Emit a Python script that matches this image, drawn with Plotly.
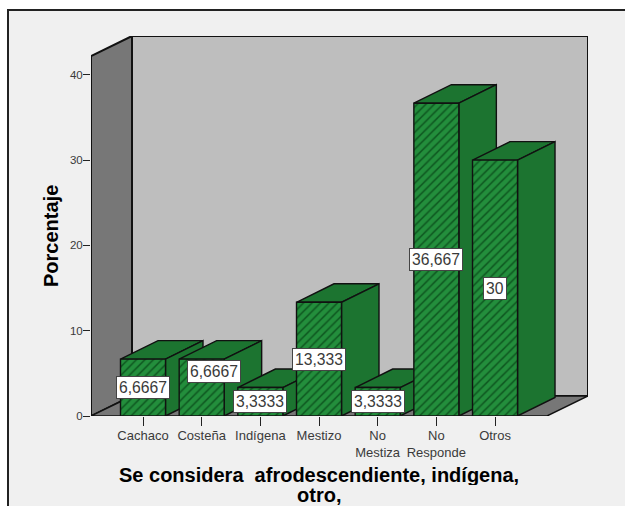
import plotly.graph_objects as go

categories = ["Cachaco", "Costeña", "Indígena", "Mestizo", "No Mestiza", "No Responde", "Otros"]
tick_labels = ["Cachaco", "Costeña", "Indígena", "Mestizo", "No<br>Mestiza", "No<br>Responde", "Otros"]
values = [6.6667, 6.6667, 3.3333, 13.333, 3.3333, 36.667, 30]
value_labels = ["6,6667", "6,6667", "3,3333", "13,333", "3,3333", "36,667", "30"]
y_ticks = [0, 10, 20, 30, 40]
x_title_lines = ["<b>Se considera  afrodescendiente, indígena,</b>", "<b>otro,</b>"]
y_title = "<b>Porcentaje</b>"

# pixel layout
W, H = 625, 506
PX_L, PX_R, PX_T, PX_B = 91, 588, 36, 416
PX_PER_CAT = 58.67
PX_PER_UNIT = 8.53
X0_PX = 143
x_min = (PX_L - X0_PX) / PX_PER_CAT
x_max = (PX_R - X0_PX) / PX_PER_CAT
y_max = (PX_B - PX_T) / PX_PER_UNIT
DX = 41 / PX_PER_CAT
DY = 20 / PX_PER_UNIT
BAR_DX = 37.5 / PX_PER_CAT
BAR_DY = 18.5 / PX_PER_UNIT
BAR_W = 45 / PX_PER_CAT

BACK = "#BEBEBE"
WALL = "#777777"
SIDE = "#1C7430"
HATCH_BG = "#0F5C22"
HATCH_FG = "#38C055"
INK = "#111111"
TEXT = "#3A3A3A"

fig = go.Figure()


def poly(xs, ys, fill, width=1.4, pattern=None):
    kw = {}
    if pattern:
        kw["fillpattern"] = pattern
    fig.add_trace(go.Scatter(
        x=xs + xs[:1], y=ys + ys[:1], mode="lines", fill="toself", fillcolor=fill,
        line=dict(color=INK, width=width), hoverinfo="skip", showlegend=False,
        cliponaxis=False, **kw))


# walls and floor
front_right = x_max - DX
top_front = y_max - DY
poly([x_min + DX, x_max, x_max, x_min + DX], [DY, DY, y_max, y_max], BACK, 2)
poly([x_min, x_min + DX, x_min + DX, x_min], [0, DY, y_max, top_front], WALL, 2)
poly([x_min, x_min + DX, x_max, front_right], [0, DY, DY, 0], WALL, 1.4)

# bars, drawn left to right so later bars overlap earlier sides
for i, v in enumerate(values):
    a, b = i - BAR_W / 2, i + BAR_W / 2
    poly([a, a + BAR_DX, b + BAR_DX, b], [v, v + BAR_DY, v + BAR_DY, v], SIDE)
    poly([b, b + BAR_DX, b + BAR_DX, b], [0, BAR_DY, v + BAR_DY, v], SIDE)
    poly([a, b, b, a], [0, 0, v, v], HATCH_BG,
         pattern=dict(shape="/", fgcolor=HATCH_FG, bgcolor=HATCH_BG, size=6, solidity=0.7))

label_shift = {1: (12, 16)}
annotations = []
for i, (v, t) in enumerate(zip(values, value_labels)):
    sx, sy = label_shift.get(i, (0, 0))
    annotations.append(dict(
        x=i, y=v / 2, text=t, showarrow=False, xshift=sx, yshift=sy,
        font=dict(family="Liberation Sans", size=15.7, color=TEXT),
        bgcolor="white", bordercolor="#444444", borderwidth=1, borderpad=2))

pw, ph = PX_R - PX_L, PX_B - PX_T


def px_x(p):
    return (p - PX_L) / pw


def px_y(p):
    return (PX_B - p) / ph


for text, cy in zip(x_title_lines, [475, 495]):
    annotations.append(dict(
        xref="paper", yref="paper", x=px_x(318.5), y=px_y(cy), text=text, showarrow=False,
        xanchor="center", yanchor="middle", height=20, valign="middle",
        font=dict(family="Liberation Sans", size=20, color="#000000")))
annotations.append(dict(
    xref="paper", yref="paper", x=px_x(51), y=px_y(236), text=y_title, showarrow=False,
    textangle=-90, xanchor="center", yanchor="middle",
    font=dict(family="Liberation Sans", size=20, color="#000000")))

frame = dict(
    type="rect", xref="paper", yref="paper", layer="below",
    x0=px_x(8), x1=px_x(W + 10), y0=px_y(H + 10), y1=px_y(10),
    fillcolor="#F0F0F0", line=dict(color="#222222", width=2))

fig.update_layout(
    width=W, height=H, autosize=False,
    margin=dict(l=PX_L, r=W - PX_R, t=PX_T, b=H - PX_B),
    paper_bgcolor="white", plot_bgcolor="rgba(0,0,0,0)",
    showlegend=False, shapes=[frame], annotations=annotations,
    font=dict(family="Liberation Sans", color=TEXT),
    xaxis=dict(
        automargin=False,
        range=[x_min, x_max], tickmode="array", tickvals=list(range(len(categories))),
        ticktext=tick_labels, ticks="outside", ticklen=9, tickwidth=1, tickcolor="#222222",
        ticklabelstandoff=-2,
        tickfont=dict(size=13, color=TEXT), showgrid=False, zeroline=False, showline=False),
    yaxis=dict(
        automargin=False,
        range=[0, y_max], tickmode="array", tickvals=y_ticks, ticks="outside", ticklen=7,
        tickwidth=1, tickcolor="#222222", ticklabelstandoff=-2,
        tickfont=dict(size=11.5, color=TEXT),
        showgrid=False, zeroline=False, showline=False),
)

fig.write_html("out.html", config={"displayModeBar": False},
               post_script="document.body.style.margin='0';")
